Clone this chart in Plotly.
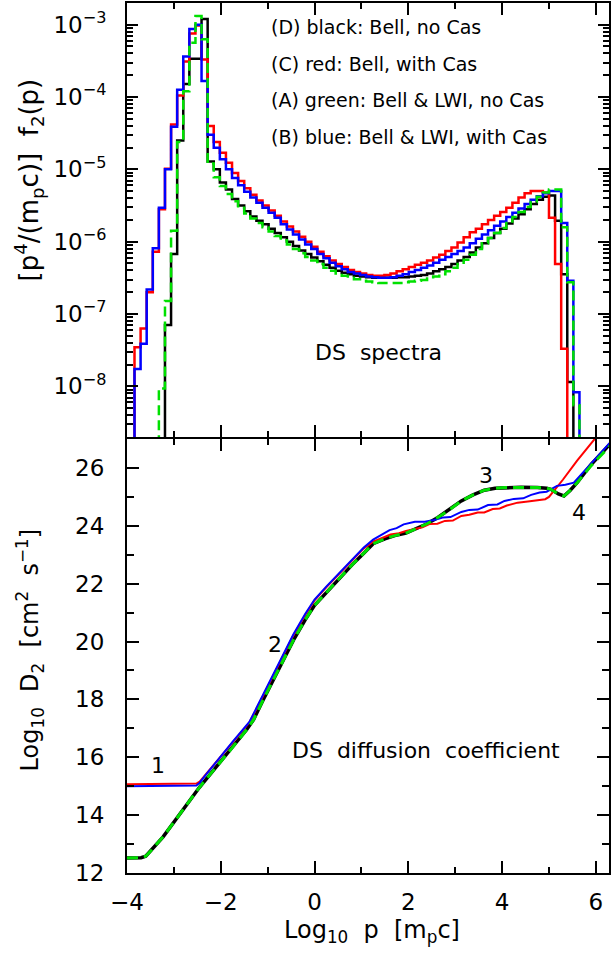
import numpy as np
import plotly.graph_objects as go

# ---------------- data ----------------
# histogram bins in log10 p (left edges), width 0.13
BIN_START = -3.84
BIN_WIDTH = 0.13
BIN_EDGES = np.round(BIN_START + BIN_WIDTH * np.arange(80), 3)

# DS spectra: log10 of p^4/(m_p c) f2(p), one value per bin, starting at bin index *_START
RED_START = 0
RED_LOGF = [-7.46, -7.20, -6.70, -6.14, -5.55, -4.99, -4.38, -3.98, -3.51, -3.12,
            -3.01, -3.48, -4.40, -4.62, -4.77, -4.91, -5.05, -5.16, -5.26, -5.35,
            -5.43, -5.50, -5.57, -5.64, -5.72, -5.79, -5.86, -5.93, -6.00, -6.07,
            -6.14, -6.20, -6.26, -6.31, -6.35, -6.39, -6.42, -6.44, -6.46, -6.47,
            -6.47, -6.46, -6.44, -6.41, -6.38, -6.35, -6.32, -6.29, -6.26, -6.22,
            -6.18, -6.13, -6.08, -6.01, -5.94, -5.87, -5.82, -5.76, -5.70, -5.64,
            -5.59, -5.53, -5.46, -5.39, -5.33, -5.30, -5.30, -5.32, -5.67, -6.31,
            -7.48]
BLUE_START = 0
BLUE_LOGF = [-7.76, -7.41, -6.66, -6.09, -5.53, -5.00, -4.41, -3.90, -3.44, -3.06,
             -3.00, -3.78, -4.52, -4.70, -4.86, -5.00, -5.12, -5.22, -5.31, -5.39,
             -5.46, -5.53, -5.60, -5.67, -5.76, -5.83, -5.90, -5.97, -6.04, -6.10,
             -6.17, -6.23, -6.29, -6.34, -6.38, -6.42, -6.44, -6.46, -6.48, -6.49,
             -6.50, -6.50, -6.49, -6.47, -6.45, -6.42, -6.39, -6.36, -6.33, -6.29,
             -6.25, -6.21, -6.17, -6.13, -6.08, -6.02, -5.96, -5.90, -5.84, -5.78,
             -5.72, -5.66, -5.60, -5.54, -5.48, -5.42, -5.37, -5.33, -5.30, -5.30,
             -5.74, -6.54, -8.08]
BLACK_START = 5
BLACK_LOGF = [-7.15, -6.17, -4.60, -3.82, -3.47, -3.47, -2.92, -4.89, -5.00, -5.18,
              -5.28, -5.41, -5.50, -5.58, -5.65, -5.71, -5.76, -5.82, -5.88, -5.94,
              -6.00, -6.06, -6.12, -6.17, -6.22, -6.27, -6.32, -6.36, -6.40, -6.43,
              -6.45, -6.47, -6.48, -6.49, -6.50, -6.50, -6.50, -6.50, -6.49, -6.49,
              -6.48, -6.47, -6.46, -6.44, -6.41, -6.38, -6.35, -6.31, -6.26, -6.21,
              -6.15, -6.08, -6.02, -5.95, -5.88, -5.82, -5.75, -5.68, -5.62, -5.55,
              -5.48, -5.42, -5.38, -5.36, -5.71, -6.45, -7.94]
GREEN_START = 4
GREEN_LOGF = [-8.03, -6.82, -5.85, -4.62, -3.92, -3.25, -2.88, -3.20, -4.92, -5.11,
              -5.23, -5.34, -5.44, -5.53, -5.61, -5.68, -5.74, -5.80, -5.86, -5.92,
              -5.98, -6.04, -6.10, -6.16, -6.21, -6.26, -6.31, -6.36, -6.40, -6.44,
              -6.47, -6.50, -6.52, -6.54, -6.55, -6.56, -6.57, -6.57, -6.57, -6.57,
              -6.56, -6.55, -6.54, -6.53, -6.51, -6.48, -6.45, -6.41, -6.36, -6.31,
              -6.25, -6.18, -6.10, -6.02, -5.95, -5.88, -5.81, -5.74, -5.66, -5.59,
              -5.52, -5.45, -5.38, -5.32, -5.28, -5.28, -5.80, -6.56, -8.26]

# DS diffusion coefficient: log10 p and log10 D2
BLACK_D_P = [-4.00, -3.70, -3.60, -3.50, -3.23, -2.45, -1.74, -1.45, -1.30, -1.10,
             -0.45, -0.20, 0.00, 0.25, 0.51, 0.80, 1.05, 1.25, 1.50, 1.71,
             1.95, 2.14, 2.40, 2.63, 2.90, 3.13, 3.38, 3.62, 3.85, 4.05,
             4.40, 4.75, 4.95, 5.04, 5.20, 5.32, 5.45, 5.60, 5.90, 6.30]
BLACK_D = [12.52, 12.53, 12.58, 12.75, 13.25, 14.97, 16.36, 16.95, 17.30, 17.97,
           20.05, 20.75, 21.25, 21.70, 22.15, 22.65, 23.05, 23.38, 23.55, 23.66,
           23.75, 23.89, 24.07, 24.29, 24.58, 24.86, 25.07, 25.23, 25.30, 25.32,
           25.33, 25.32, 25.30, 25.26, 25.10, 25.03, 25.22, 25.49, 26.12, 26.82]
GREEN_D_P = BLACK_D_P
GREEN_D = [12.52, 12.53, 12.58, 12.75, 13.25, 14.97, 16.36, 16.95, 17.30, 17.97,
           20.05, 20.75, 21.25, 21.70, 22.15, 22.65, 23.05, 23.38, 23.55, 23.66,
           23.75, 23.89, 24.07, 24.29, 24.58, 24.86, 25.07, 25.23, 25.30, 25.32,
           25.33, 25.32, 25.30, 25.26, 25.10, 25.03, 25.22, 25.49, 26.08, 26.76]
RED_D_P = [-4.00, -2.60, -2.52, -2.45, -2.35, -1.74, -1.39, -1.10, -0.45, -0.20,
           0.00, 0.25, 0.51, 0.80, 1.05, 1.25, 1.45, 1.62, 1.80, 1.95,
           2.14, 2.30, 2.45, 2.62, 2.78, 2.95, 3.13, 3.30, 3.48, 3.62,
           3.80, 3.95, 4.10, 4.33, 4.55, 4.70, 4.92, 5.00, 5.30, 5.60,
           5.96, 6.30]
RED_D = [15.07, 15.07, 15.09, 15.16, 15.35, 16.53, 17.20, 18.12, 20.22, 20.92,
         21.42, 21.87, 22.32, 22.82, 23.22, 23.45, 23.58, 23.70, 23.74, 23.82,
         23.89, 23.95, 24.06, 24.07, 24.17, 24.18, 24.34, 24.38, 24.46, 24.46,
         24.58, 24.60, 24.70, 24.80, 24.84, 24.88, 24.92, 25.00, 25.60, 26.25,
         26.97, 27.65]
BLUE_D_P = [-4.00, -2.60, -2.52, -2.45, -2.35, -1.74, -1.39, -1.10, -0.45, -0.20,
            0.00, 0.25, 0.51, 0.80, 1.05, 1.25, 1.45, 1.60, 1.75, 1.90,
            2.14, 2.35, 2.55, 2.75, 2.90, 3.13, 3.30, 3.48, 3.70, 3.90,
            4.05, 4.25, 4.45, 4.62, 4.80, 4.95, 5.17, 5.35, 5.53, 5.90,
            6.30]
BLUE_D = [15.00, 15.00, 15.02, 15.12, 15.33, 16.55, 17.22, 18.15, 20.25, 20.95,
          21.45, 21.90, 22.35, 22.85, 23.25, 23.52, 23.70, 23.85, 23.92, 24.05,
          24.14, 24.14, 24.20, 24.29, 24.30, 24.48, 24.55, 24.56, 24.72, 24.74,
          24.86, 24.93, 24.95, 25.07, 25.15, 25.18, 25.38, 25.42, 25.49, 26.15,
          26.87]

LEGEND_LINES = ["(D) black: Bell, no Cas", "(C) red: Bell, with Cas",
                "(A) green: Bell & LWI, no Cas", "(B) blue: Bell & LWI, with Cas"]
TOP_TICKS = [-8, -7, -6, -5, -4, -3]
X_TICKS = [-4, -2, 0, 2, 4, 6]
X_MINOR = [-3, -1, 1, 3, 5]
D_MINOR = [13, 15, 17, 19, 21, 23, 25, 27]

RED = "#ff0000"
BLUE = "#0000ff"
GREEN = "#00e000"
BLACK = "#000000"
FONT = "DejaVu Sans"

# ---------------- helpers ----------------
TINY = 1e-14


def step_xy(start, logf):
    n = len(logf)
    xs = [BIN_EDGES[start]] + list(BIN_EDGES[start:start + n]) + [BIN_EDGES[start + n]]
    ys = [TINY] + [10.0 ** v for v in logf] + [TINY]
    return xs, ys


fig = go.Figure()

# ---- top panel: spectra ----
for start, vals, col, dash in [(BLACK_START, BLACK_LOGF, BLACK, "solid"),
                               (RED_START, RED_LOGF, RED, "solid"),
                               (BLUE_START, BLUE_LOGF, BLUE, "solid"),
                               (GREEN_START, GREEN_LOGF, GREEN, "10px,5px")]:
    xs, ys = step_xy(start, vals)
    fig.add_trace(go.Scatter(x=xs, y=ys, mode="lines", line_shape="hv",
                             line=dict(color=col, width=2.5, dash=dash),
                             xaxis="x2", yaxis="y2", showlegend=False,
                             hoverinfo="skip"))

# ---- bottom panel: diffusion coefficient ----
for xs, ys, col, w, dash in [(BLACK_D_P, BLACK_D, BLACK, 3.5, "solid"),
                             (RED_D_P, RED_D, RED, 2.0, "solid"),
                             (BLUE_D_P, BLUE_D, BLUE, 2.0, "solid"),
                             (GREEN_D_P, GREEN_D, GREEN, 3.0, "11px,6px")]:
    fig.add_trace(go.Scatter(x=xs, y=ys, mode="lines",
                             line=dict(color=col, width=w, dash=dash),
                             xaxis="x", yaxis="y", showlegend=False,
                             hoverinfo="skip"))

# ---------------- layout ----------------
L, R, T, B = 127, 1, 3, 80
W, H = 612, 953
PW, PH = W - L - R, H - T - B
GAP = 1.0 / PH  # half of 2px gap so the shared border is a single 2px line


def px(xp):
    return (xp - L) / PW


def py(yp):
    return (H - B - yp) / PH


tickfont = dict(family=FONT, size=23, color="black")
axis_common = dict(showline=True, linewidth=2, linecolor="black", mirror="allticks",
                   ticks="inside", tickcolor="black", tickwidth=1.6, showgrid=False,
                   zeroline=False, tickfont=tickfont)
minor_common = dict(showline=False, mirror="allticks", ticks="inside",
                    tickcolor="black", tickwidth=1.6, showgrid=False,
                    zeroline=False, showticklabels=False, tickmode="array")

top_minor = [k * 10.0 ** n for n in range(-9, -2) for k in range(2, 10)]

TOP_DOM = [0.5 + GAP, 1]
BOT_DOM = [0, 0.5 - GAP]

fig.update_layout(
    width=W, height=H, margin=dict(l=L, r=R, t=T, b=B),
    paper_bgcolor="white", plot_bgcolor="white",
    font=dict(family=FONT, color="black"),
    # bottom panel
    xaxis=dict(axis_common, domain=[0, 1], anchor="y", range=[-4, 6.28],
               tickmode="array", tickvals=X_TICKS, ticklen=12,
               ticklabelstandoff=7),
    yaxis=dict(axis_common, domain=BOT_DOM, anchor="x", range=[12, 27],
               tickmode="linear", tick0=12, dtick=2, ticklen=12,
               ticklabelstandoff=16),
    # top panel
    xaxis2=dict(axis_common, domain=[0, 1], anchor="y2", range=[-4, 6.28],
                matches="x", tickmode="array", tickvals=X_TICKS, ticklen=12,
                showticklabels=False),
    yaxis2=dict(axis_common, domain=TOP_DOM, anchor="x2", type="log",
                range=[-8.7, -2.7], tickmode="array",
                tickvals=[10.0 ** e for e in TOP_TICKS],
                ticktext=["10<sup>\u2212%d</sup>" % (-e) for e in TOP_TICKS],
                ticklen=11, ticklabelstandoff=14),
    # minor-tick axes
    xaxis3=dict(minor_common, overlaying="x", anchor="y", range=[-4, 6.28],
                tickvals=X_MINOR, ticklen=6),
    xaxis4=dict(minor_common, overlaying="x2", anchor="y2", range=[-4, 6.28],
                tickvals=X_MINOR, ticklen=6),
    yaxis3=dict(minor_common, overlaying="y", anchor="x", range=[12, 27],
                tickvals=D_MINOR, ticklen=7),
    yaxis4=dict(minor_common, overlaying="y2", anchor="x2", type="log",
                range=[-8.7, -2.7], tickvals=top_minor, ticklen=6),
)

# dummy invisible traces so that the minor-tick axes are drawn
fig.add_trace(go.Scatter(x=[-4], y=[12], xaxis="x3", yaxis="y3", mode="markers",
                         marker=dict(opacity=0), showlegend=False, hoverinfo="skip"))
fig.add_trace(go.Scatter(x=[-4], y=[1e-5], xaxis="x4", yaxis="y4", mode="markers",
                         marker=dict(opacity=0), showlegend=False, hoverinfo="skip"))

ann = []
# legend text
for i, line in enumerate(LEGEND_LINES):
    ann.append(dict(x=px(270), y=py(27 + 36.5 * i), xref="paper", yref="paper",
                    text=line, showarrow=False, xanchor="left", yanchor="middle",
                    font=dict(family=FONT, size=19, color="black")))
ann.append(dict(x=px(380), y=py(352), xref="paper", yref="paper", text="DS  spectra",
                showarrow=False, xanchor="center", yanchor="middle",
                font=dict(family=FONT, size=22, color="black")))
ann.append(dict(x=px(427), y=py(750), xref="paper", yref="paper",
                text="DS  diffusion  coefficient", showarrow=False,
                xanchor="center", yanchor="middle",
                font=dict(family=FONT, size=22, color="black")))
for lab, xx, yy in [("1", 158, 765), ("2", 276, 644), ("3", 487, 475), ("4", 581, 512)]:
    ann.append(dict(x=px(xx), y=py(yy), xref="paper", yref="paper", text=lab,
                    showarrow=False, xanchor="center", yanchor="middle",
                    font=dict(family=FONT, size=22, color="black")))
# axis titles
ann.append(dict(x=px(373), y=py(931), xref="paper", yref="paper",
                text="Log<sub>10</sub>\u00a0 p \u00a0[m<sub>p</sub>c]", showarrow=False,
                xanchor="center", yanchor="middle",
                font=dict(family=FONT, size=24, color="black")))
ann.append(dict(x=px(29), y=py(650), xref="paper", yref="paper", textangle=-90,
                text="Log<sub>10</sub>\u00a0 D<sub>2</sub>\u00a0 [cm<sup>2</sup>\u00a0 s<sup>\u22121</sup>]",
                showarrow=False, xanchor="center", yanchor="middle",
                font=dict(family=FONT, size=24, color="black")))
ann.append(dict(x=px(29), y=py(180), xref="paper", yref="paper", textangle=-90,
                text="[p<sup>4</sup>/(m<sub>p</sub>c)]\u00a0 f<sub>2</sub>(p)",
                showarrow=False, xanchor="center", yanchor="middle",
                font=dict(family=FONT, size=26, color="black")))
fig.update_layout(annotations=ann)

fig.write_html("out.html")
